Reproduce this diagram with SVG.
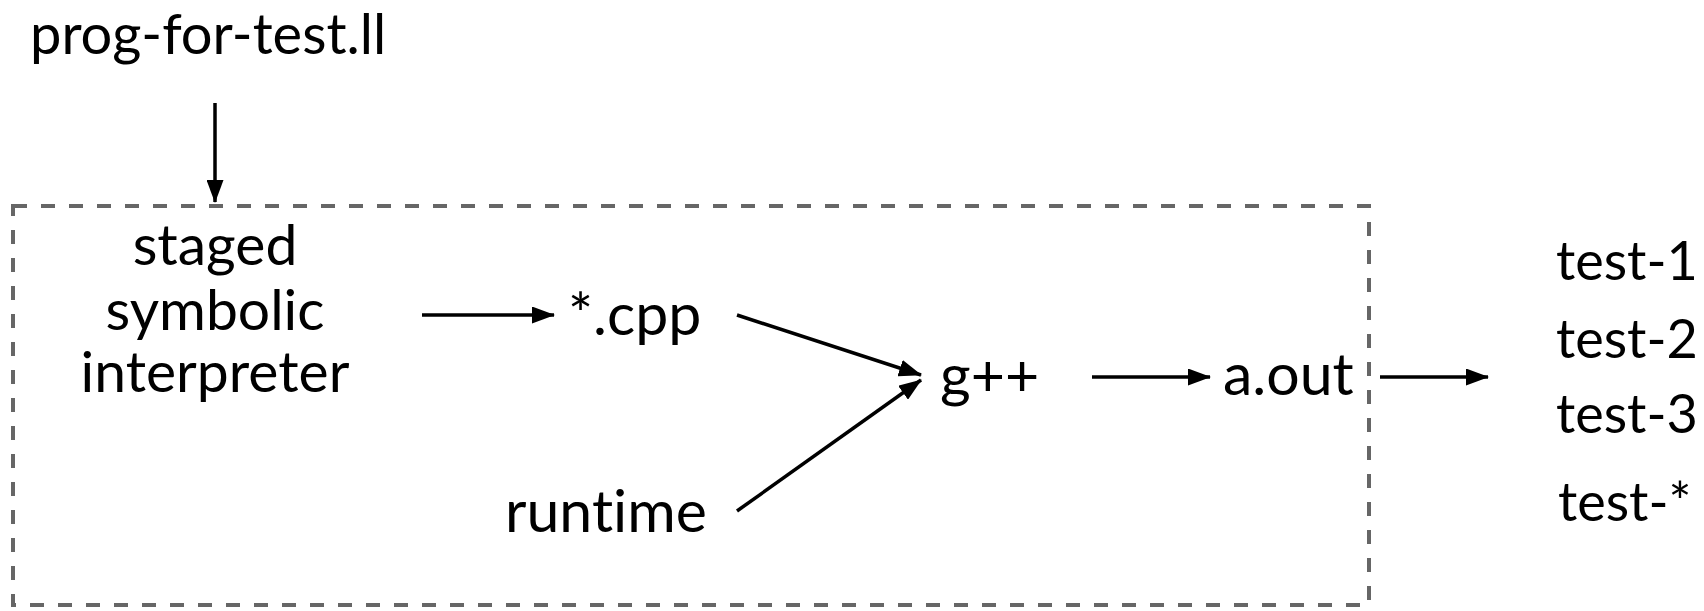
<svg xmlns="http://www.w3.org/2000/svg" width="1704" height="611" viewBox="0 0 1704 611">
  <style>
    .lbl { font-family: "Lato", "Liberation Sans", sans-serif; font-size: 59px; fill: #000;
           font-variant-ligatures: none; font-feature-settings: "liga" 0; }
    .src { font-size: 56px; }
    .out { font-size: 54px; }
    .stack { font-size: 57px; }
    .mid { text-anchor: middle; }
    .edge { stroke: #000; stroke-width: 3.5; fill: none; marker-end: url(#head); }
    .frame { stroke: #666; stroke-width: 4; fill: none; stroke-dasharray: 14 14; }
  </style>
  <defs>
    <marker id="head" viewBox="0 0 23 17" refX="22" refY="8.5" markerWidth="23" markerHeight="17" markerUnits="userSpaceOnUse" orient="auto">
      <path d="M0,0 L23,8.5 L0,17 z" fill="#000"/>
    </marker>
  </defs>

  <rect width="1704" height="611" fill="#fff"/>

  <!-- dashed frame around the compile pipeline -->
  <rect id="pipeline-frame" class="frame" x="13" y="206" width="1356" height="399"/>

  <g id="input">
    <text class="lbl src" x="30" y="54">prog-for-test.ll</text>
  </g>

  <g id="interpreter">
    <text class="lbl stack mid" x="215" y="265">staged</text>
    <text class="lbl stack mid" x="215" y="330">symbolic</text>
    <text class="lbl stack mid" x="215" y="392">interpreter</text>
  </g>

  <g id="cpp">
    <text class="lbl" x="568" y="335">*.cpp</text>
  </g>

  <g id="runtime">
    <text class="lbl" x="505" y="532">runtime</text>
  </g>

  <g id="gpp">
    <text class="lbl" x="940" y="396">g++</text>
  </g>

  <g id="aout">
    <text class="lbl" x="1223" y="395">a.out</text>
  </g>

  <g id="tests">
    <text class="lbl out" x="1556" y="280">test-1</text>
    <text class="lbl out" x="1556" y="358">test-2</text>
    <text class="lbl out" x="1556" y="433">test-3</text>
    <text class="lbl out" x="1558" y="521">test-*</text>
  </g>

  <g id="connectors">
    <line class="edge" x1="215" y1="103" x2="215" y2="202"/>
    <line class="edge" x1="422" y1="315" x2="554" y2="315"/>
    <line class="edge" x1="737" y1="315" x2="921" y2="375"/>
    <line class="edge" x1="737" y1="511" x2="921" y2="380"/>
    <line class="edge" x1="1092" y1="377" x2="1210" y2="377"/>
    <line class="edge" x1="1380" y1="377" x2="1488" y2="377"/>
  </g>
</svg>
